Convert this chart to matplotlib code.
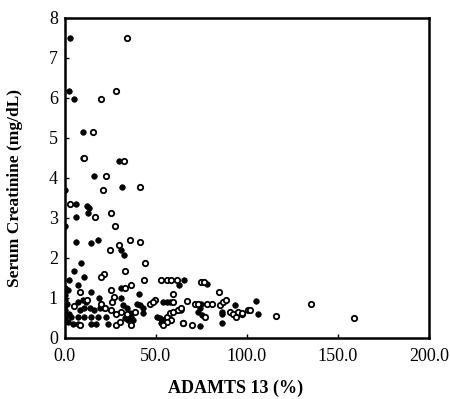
import matplotlib
matplotlib.use("Agg")
import matplotlib.pyplot as plt

# ADAMTS 13 activity (%) vs serum creatinine (mg/dL)
filled_x = [2.7, 2.2, 5.1, 9.9, 10.0, 29.7, 16.1, 31.3, 0, 5.9, 12.3, 13.2, 12.8, 6.4, 0,
            5.9, 14.6, 18.0, 31.1, 32.4, 8.8, 4.9, 2.2, 10.4, 7.3, 65.6, 62.6, 0, 14.5, 0,
            0, 0, 0, 0, 7.5, 9.9, 11.7, 19.0, 8.1, 10.8, 13.6, 16.3, 19.1, 21.8, 3.5,
            7.1, 10.8, 14.5, 18.1, 22.7, 4.4, 7.1, 14.5, 17.2, 23.6, 40.8, 31.1, 54.0, 55.9,
            57.7, 39.7, 41.2, 42.7, 43.0, 50.4, 52.2, 54.0, 53.1, 31.1, 32.0, 33.9, 35.7, 36.6,
            33.0, 34.8, 37.5, 77.9, 64.1, 74.6, 74.2, 73.3, 75.1, 74.2, 86.1, 86.6, 86.6, 93.4,
            93.4, 105.0, 105.9, 1.5, 1.0, 2.5, 1.5]
filled_y = [7.5, 6.17, 5.98, 5.15, 4.5, 4.43, 4.05, 3.78, 3.7, 3.35, 3.3, 3.26, 3.12, 3.03, 2.8,
            2.41, 2.38, 2.45, 2.2, 2.08, 1.87, 1.68, 1.45, 1.52, 1.32, 1.45, 1.32, 1.25, 1.16, 1.08,
            0.95, 0.83, 0.7, 0.5, 0.91, 0.95, 0.91, 0.99, 0.7, 0.75, 0.75, 0.7, 0.75, 0.75, 0.52,
            0.52, 0.52, 0.52, 0.52, 0.52, 0.35, 0.35, 0.35, 0.35, 0.35, 1.09, 1.25, 0.91, 0.91,
            0.91, 0.84, 0.82, 0.74, 0.62, 0.53, 0.49, 0.45, 0.37, 0.99, 0.82, 0.74, 0.62, 0.53,
            0.49, 0.45, 0.45, 1.34, 0.7, 0.84, 0.74, 0.66, 0.57, 0.31, 0.66, 0.59, 0.37, 0.82,
            0.57, 0.93, 0.59, 1.2, 0.85, 0.6, 0.4]

open_x = [34.0, 19.8, 27.9, 15.6, 10.6, 32.4, 22.5, 21.0, 41.2, 2.7, 16.7, 25.6, 27.5, 24.7,
          29.9, 35.7, 41.2, 44.3, 21.6, 20.1, 33.1, 43.6, 36.6, 53.1, 55.9, 58.6, 61.4, 59.5,
          8.1, 25.5, 27.3, 25.5, 22.3, 8.1, 28.2, 33.0, 49.5, 46.7, 48.5, 59.5, 38.5, 55.9,
          57.7, 59.5, 62.3, 64.1, 58.6, 55.9, 54.0, 65.0, 31.1, 33.9, 36.6, 30.2, 74.6, 76.4,
          84.6, 67.2, 71.4, 73.3, 77.9, 80.6, 76.9, 65.0, 70.1, 85.2, 87.0, 88.8, 90.7, 92.5,
          94.3, 97.1, 95.2, 100.7, 97.6, 101.7, 115.9, 135.5, 158.8, 5.0, 12.0, 20.0, 26.0, 28.0]
open_y = [7.5, 5.97, 6.18, 5.15, 4.5, 4.43, 4.05, 3.7, 3.78, 3.35, 3.03, 3.12, 2.8, 2.2,
          2.32, 2.45, 2.41, 1.87, 1.59, 1.52, 1.68, 1.45, 1.32, 1.45, 1.45, 1.45, 1.45, 1.1,
          1.14, 1.2, 1.03, 0.7, 0.75, 0.33, 0.33, 1.24, 0.95, 0.84, 0.91, 0.91, 0.66, 0.53,
          0.62, 0.66, 0.7, 0.74, 0.45, 0.41, 0.33, 0.37, 0.66, 0.59, 0.33, 0.41, 1.39, 1.39,
          1.16, 0.93, 0.84, 0.84, 0.84, 0.84, 0.53, 0.37, 0.33, 0.82, 0.91, 0.95, 0.66, 0.59,
          0.53, 0.59, 0.64, 0.7, 0.62, 0.7, 0.56, 0.84, 0.51, 0.8, 0.95, 0.85, 0.9, 0.6]

x_ticks = [0, 50, 100, 150, 200]
x_labels = ["0.0", "50.0", "100.0", "150.0", "200.0"]
y_ticks = [0, 1, 2, 3, 4, 5, 6, 7, 8]

plt.rcParams["font.family"] = ["Liberation Serif", "DejaVu Serif"]

fig = plt.figure(figsize=(4.5, 3.99), dpi=100)
ax = fig.add_axes([0.144, 0.153, 0.809, 0.802])

ax.scatter(filled_x, filled_y, s=16, c="black", edgecolors="black", linewidths=0.5, zorder=3)
ax.scatter(open_x, open_y, s=15, facecolors="white", edgecolors="black", linewidths=1.3, zorder=3)

ax.set_xlim(0, 200)
ax.set_ylim(0, 8)
ax.set_xticks(x_ticks)
ax.set_xticklabels(x_labels)
ax.set_yticks(y_ticks)
ax.tick_params(direction="in", length=3, width=1, labelsize=13)
ax.tick_params(axis="x", pad=7)
ax.tick_params(axis="y", pad=5)
for sp in ax.spines.values():
    sp.set_linewidth(1.8)

ax.set_xlabel("ADAMTS 13 (%)", fontsize=13, fontweight="bold")
ax.set_ylabel("Serum Creatinine (mg/dL)", fontsize=12.5, fontweight="bold")
ax.xaxis.set_label_coords(0.47, -0.13)
ax.yaxis.set_label_coords(-0.115, 0.47)

fig.savefig("out.png", dpi=100)
